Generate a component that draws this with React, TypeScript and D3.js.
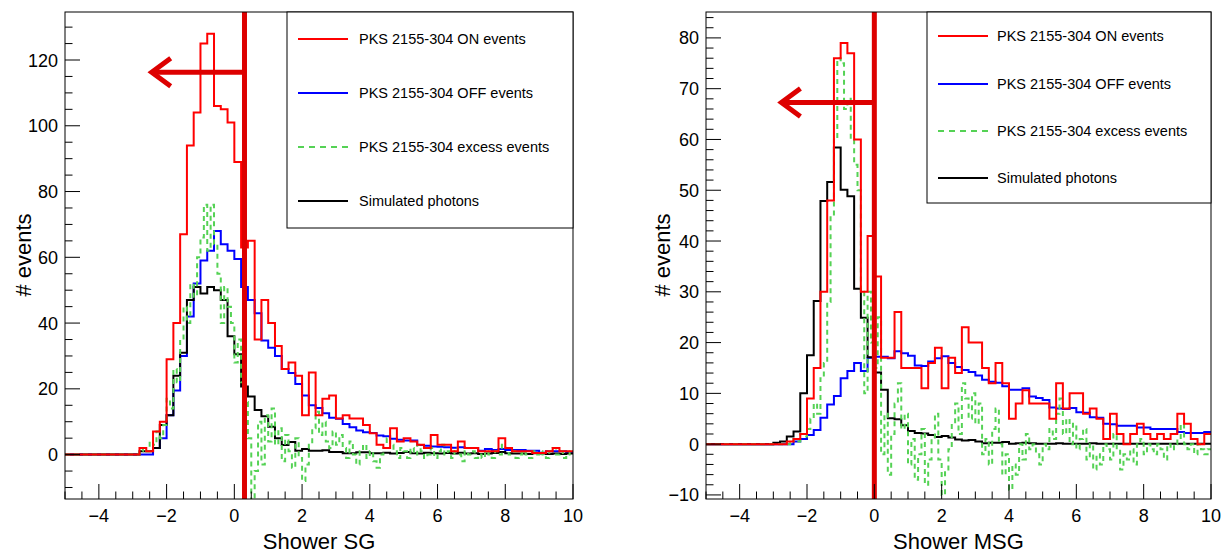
import React from "react";
import * as d3 from "d3";

// ---------- DATA ----------
const X_MIN = -5;
const X_MAX = 10;
const BIN = 0.2; // ON / OFF / simulated binning
const FINE_BIN = 0.1; // excess binning

const xTickValues = [-4, -2, 0, 2, 4, 6, 8, 10];
const sgYTickValues = [0, 20, 40, 60, 80, 100, 120];
const msgYTickValues = [-10, 0, 10, 20, 30, 40, 50, 60, 70, 80];

const legendLabels = [
  "PKS 2155-304 ON events",
  "PKS 2155-304 OFF events",
  "PKS 2155-304 excess events",
  "Simulated photons",
];

// Shower SG panel
const sgOn = [
  0, 0, 0, 0, 0, 0, 0, 0, 0, 0, 0,
  2, 1, 7, 10, 29, 40, 67, 94, 104, 125, 128, 106, 105, 101, 89, 63, 65, 35, 47, 40,
  33, 26, 28, 24, 12, 25, 12, 17, 18, 11, 12, 11, 11, 9, 6.5, 3, 2, 8, 4, 5,
  4, 3, 2, 6, 3, 3, 1, 4, 2, 2, 1, 1, 1, 5, 2, 1, 1, 1, 0.5, 0.5, 1, 2, 1, 1,
];
const sgOff = [
  0, 0, 0, 0, 0, 0, 0, 0, 0, 0, 0, 0, 0,
  2, 5, 12, 19.5, 30, 42, 52, 59, 62, 68, 64, 62, 59.5, 51, 47, 43, 34.7, 32.5, 30,
  26, 24.8, 21.5, 18, 15, 14.2, 12.6, 11.2, 10.9, 9.3, 8.3, 7.3, 6.8, 6.6, 5.8, 5.6,
  4.8, 4.5, 4.3, 4.3, 2.9, 2.7, 2.5, 2.4, 2.2, 2.1, 2.2, 2, 2, 1.2, 1.7, 1.4, 1.7,
  1.4, 1.4, 1.4, 1.2, 1.2, 0.6, 1, 1, 1, 0.8,
];
const sgSim = [
  0, 0, 0, 0, 0, 0, 0, 0, 0, 0, 0,
  1, 1, 2, 9, 12, 24, 31, 47, 51, 49, 51, 50, 47, 36, 30.5, 20.7, 17.7, 13.6, 11.7,
  8.5, 5, 2.9, 3.8, 1.2, 1.7, 1.2, 1.2, 1.3, 0.8, 0.8, 0.4, 0.4, 0.7, 0.7, 0.4, 0.4,
  0.6, 0.3, 0.5, 0.8, 0.4, 0.3, 0.6, 0.4, 0.3, 0.5, 0.3, 0.6, 0.3, 0.4, 0.2, 0.3,
  0.5, 0.8, 0.4, 0.3, 0.3, 0.2, 0.4, 0.3, 0.2, 0.3, 0.2, 0.3,
];
const sgExcess = [
  0, 0, 0, 0, 0, 0, 0, 0, 0, 0,
  0, 0, 0, 0, 0, 0, 0, 0, 0, 0,
  0, 0, 1, 2, 1, 4, 3, 7, 5, 9,
  17, 14, 26, 22, 35, 45, 40, 52, 48, 60,
  66, 76, 62, 76, 64, 55, 40, 51, 45, 40,
  28, 35, 22, 16, 5, -14, -5, 10, -3, 12,
  4, 14, 3, 8, -2, 6, 1, -4, 5, -1,
  -8, -3, 3, 8, 13, 6, 10, 4, 2, 7,
  3, 6, 2, -1, 4, 0, -3, 1, 3, -1,
  1, -2, -4, 0, 2, 5, 3, 1, -1, 2,
  1, -1, 2, 0, 3, 1, -1, 0, 2, -1,
  1, 3, 0, 1, -1, 2, 0, -2, 1, 0,
  1, -1, 0, -1, 1, 0, -1, 1, 0, 3,
  2, 0, 1, -1, 0, 1, 0, -1, 1, 0,
  1, 0, -1, 1, 2, 0, 1, -1, 0, 1,
];

// Shower MSG panel
const msgOn = [
  0, 0, 0, 0, 0, 0, 0, 0, 0, 0, 0, 0,
  0.5, 1, 2, 9, 15, 30, 48, 76, 79, 77, 60, 30, 41, 33, 17, 17, 26, 15, 15, 15, 11,
  16, 19, 11, 17, 14, 23, 20, 20, 15, 12, 16, 12, 5, 8, 10.6, 8, 8, 8, 5, 12, 7,
  10, 10, 6, 7, 5, 1, 6, 2, 0, 2, 4, 2, 1, 2, 1, 2, 6, 4, 1, 0, 2,
];
const msgOff = [
  0, 0, 0, 0, 0, 0, 0, 0, 0, 0, 0, 0, 0,
  0.5, 1, 1.8, 2.8, 5.2, 7.8, 9.5, 13, 14.4, 16, 14.4, 17, 17.2, 17.2, 16.9, 18.3,
  17.9, 17.4, 15.5, 15.4, 16.3, 16.9, 17.3, 16, 15.2, 14.6, 14.2, 13.5, 12.7, 12.3,
  12.1, 11.4, 10.7, 10.7, 11, 9.4, 9.1, 8.7, 7.2, 7, 6.9, 7.1, 6.3, 6.2, 5.3, 5.2,
  4, 3.9, 3.6, 3.6, 3.6, 3.3, 3.3, 3, 3, 3, 3, 2.4, 2.2, 2.2, 2.2, 2.4,
];
const msgSim = [
  0, 0, 0, 0, 0, 0, 0, 0, 0, 0,
  0.3, 0.5, 1.5, 2.5, 10, 17.5, 28.2, 47.9, 51.6, 58.4, 50.1, 48.8, 30.6, 24.9, 17.1,
  14.1, 10.7, 5.1, 4.9, 3.7, 2.6, 2.2, 2.1, 1.8, 1.4, 1.6, 1.3, 0.9, 0.7, 0.8, 0.5,
  0.2, 0.3, 0.3, 0.4, 0.1, 0.2, 0.3, 0.2, 0.1, 0.1,
  0.1, 0.2, 0.1, 0.1, 0.1, 0.1, 0.2, 0.1, 0.1, 0.1, 0.1, 0.1, 0.1, 0.1, 0.1, 0.1,
  0.1, 0.1, 0.1, 0.1, 0.1, 0.1, 0.1, 0.1,
];
const msgExcess = [
  0, 0, 0, 0, 0, 0, 0, 0, 0, 0,
  0, 0, 0, 0, 0, 0, 0, 0, 0, 0,
  0, 0, 0, 0, 0, 0.5, 1, 0.5, 2, 1.5,
  3, 5, 8, 6, 13, 16, 28, 45, 60, 76,
  75, 66, 68, 60, 55, 50, 30, 10, 30, 20,
  15, 25, -2, 6, -6, 2, 8, 12, 3, 6,
  -4, 1, -7, -2, 3, -8, -3, 1, 6, -3,
  -10, -5, -1, 4, 8, 2, 12, 9, 5, 10,
  4, 8, -2, 1, -4, 3, 7, 0, -6, -2,
  -9, -4, -6, 0, -3, 2, -1, 0, -2, -4,
  0, -1, 3, 1, 6, 9, 2, 5, 0, 4,
  -1, 1, 3, -3, 0, -5, -2, -4, 0, -1,
  -3, 2, -1, -5, -2, -3, -1, -4, 0, 1,
  -2, 0, -1, -2, 0, -1, -3, 0, -1, 0,
  1, 4, 0, -1, 0, -2, 0, -1, -2, -1,
];

// cut & arrow annotations (data units)
const sgCut = 0.3;
const sgArrowY = 116.3;
const sgArrowTip = -2.44;
const msgCut = 0.0;
const msgArrowY = 67.3;
const msgArrowTip = -2.76;

// ---------- STYLE ----------
const FONT = "'Liberation Sans', Arial, Helvetica, sans-serif";
const RED = "#ff0000";
const BLUE = "#0000ff";
const GREEN = "#55d255";
const BLACK = "#000000";
const CUT = "#dd0000";

type PanelProps = {
  id: string;
  left: number;
  right: number;
  top: number;
  bottom: number;
  yDomain: [number, number];
  yTicks: number[];
  yMinor: number;
  on: number[];
  off: number[];
  sim: number[];
  excess: number[];
  cut: number;
  arrowY: number;
  arrowTip: number;
  legend: { x0: number; x1: number; y0: number; y1: number; rows: number[]; lineX0: number; lineX1: number; textX: number };
  xTitle: string;
  yTitleX: number;
};

function histPath(values: number[], width: number, xs: any, ys: any) {
  const pts: [number, number][] = values.map((v, i) => [X_MIN + i * width, v]);
  pts.push([X_MIN + values.length * width, values[values.length - 1]]);
  return d3
    .line<[number, number]>()
    .x((d) => xs(d[0]))
    .y((d) => ys(d[1]))
    .curve(d3.curveStepAfter)(pts) as string;
}

function fmt(v: number) {
  return v < 0 ? "\u2212" + Math.abs(v) : String(v);
}

function Panel(p: PanelProps) {
  const xs = d3.scaleLinear().domain([X_MIN, X_MAX]).range([p.left, p.right]);
  const ys = d3.scaleLinear().domain(p.yDomain).range([p.bottom, p.top]);
  const majorLen = 15;
  const minorLen = 7.5;

  const xMinor = d3.range(X_MIN, X_MAX + 1e-9, 0.5).filter((v) => Math.abs(v / 2 - Math.round(v / 2)) > 1e-6);
  const yStart = Math.ceil(p.yDomain[0] / p.yMinor) * p.yMinor;
  const yMinor = d3
    .range(yStart, p.yDomain[1], p.yMinor)
    .filter((v) => !p.yTicks.some((t) => Math.abs(t - v) < 1e-6));

  const ax = xs(p.cut);
  const ay = ys(p.arrowY);
  const tipX = xs(p.arrowTip);

  const legendColors = [RED, BLUE, GREEN, BLACK];

  return (
    <g>
      <defs>
        <clipPath id={`clip-${p.id}`}>
          <rect x={p.left} y={p.top} width={p.right - p.left} height={p.bottom - p.top} />
        </clipPath>
      </defs>
      <rect x={p.left} y={p.top} width={p.right - p.left} height={p.bottom - p.top} fill="white" />
      <g clipPath={`url(#clip-${p.id})`} fill="none" strokeWidth={2}>
        <path d={histPath(p.off, BIN, xs, ys)} stroke={BLUE} />
        <path d={histPath(p.sim, BIN, xs, ys)} stroke={BLACK} />
        <path d={histPath(p.excess, FINE_BIN, xs, ys)} stroke={GREEN} strokeDasharray="5,4" />
        <path d={histPath(p.on, BIN, xs, ys)} stroke={RED} />
      </g>
      {/* cut and arrow */}
      <g stroke={CUT} strokeWidth={5} fill="none" strokeLinecap="butt">
        <line x1={ax} x2={ax} y1={p.top} y2={p.bottom} />
        <line x1={ax} x2={tipX + 2} y1={ay} y2={ay} />
        <polyline points={`${tipX + 19},${ay - 14} ${tipX},${ay} ${tipX + 19},${ay + 14}`} strokeLinejoin="miter" />
      </g>
      {/* frame */}
      <rect x={p.left} y={p.top} width={p.right - p.left} height={p.bottom - p.top} fill="none" stroke="#000" strokeWidth={1} />
      {/* ticks */}
      <g stroke="#000" strokeWidth={1}>
        {xTickValues.map((t) => (
          <line key={`xm${t}`} x1={xs(t)} x2={xs(t)} y1={p.bottom} y2={p.bottom - majorLen} />
        ))}
        {xMinor.map((t) => (
          <line key={`xn${t}`} x1={xs(t)} x2={xs(t)} y1={p.bottom} y2={p.bottom - minorLen} />
        ))}
        {p.yTicks.map((t) => (
          <line key={`ym${t}`} x1={p.left} x2={p.left + majorLen} y1={ys(t)} y2={ys(t)} />
        ))}
        {yMinor.map((t) => (
          <line key={`yn${t}`} x1={p.left} x2={p.left + minorLen} y1={ys(t)} y2={ys(t)} />
        ))}
      </g>
      <g fontFamily={FONT} fontSize={18} fill="#000">
        {xTickValues.map((t) => (
          <text key={`xl${t}`} x={xs(t)} y={p.bottom + 23} textAnchor="middle">
            {fmt(t)}
          </text>
        ))}
        {p.yTicks.map((t) => (
          <text key={`yl${t}`} x={p.left - 7} y={ys(t) + 6.5} textAnchor="end">
            {fmt(t)}
          </text>
        ))}
      </g>
      <text
        x={(p.left + p.right) / 2}
        y={549}
        textAnchor="middle"
        fontFamily={FONT}
        fontSize={22}
      >
        {p.xTitle}
      </text>
      <text
        transform={`translate(${p.yTitleX},${255}) rotate(-90)`}
        textAnchor="middle"
        fontFamily={FONT}
        fontSize={22}
      >
        # events
      </text>
      {/* legend */}
      <rect
        x={p.legend.x0}
        y={p.legend.y0}
        width={p.legend.x1 - p.legend.x0}
        height={p.legend.y1 - p.legend.y0}
        fill="white"
        stroke="#000"
        strokeWidth={1}
      />
      {legendLabels.map((lab, i) => (
        <g key={lab}>
          <line
            x1={p.legend.lineX0}
            x2={p.legend.lineX1}
            y1={p.legend.rows[i]}
            y2={p.legend.rows[i]}
            stroke={legendColors[i]}
            strokeWidth={2}
            strokeDasharray={i === 2 ? "6,5" : undefined}
          />
          <text
            x={p.legend.textX}
            y={p.legend.rows[i] + 5}
            fontFamily={FONT}
            fontSize={14.5}
            fill="#000"
          >
            {lab}
          </text>
        </g>
      ))}
    </g>
  );
}

export default function App() {
  return (
    <svg
      width={1226}
      height={557}
      style={{ position: "absolute", left: 0, top: 0, background: "white" }}
    >
      <rect x={0} y={0} width={1226} height={557} fill="white" />
      <Panel
        id="sg"
        left={65}
        right={573}
        top={12}
        bottom={499}
        yDomain={[-13.5, 134.6]}
        yTicks={sgYTickValues}
        yMinor={5}
        on={sgOn}
        off={sgOff}
        sim={sgSim}
        excess={sgExcess}
        cut={sgCut}
        arrowY={sgArrowY}
        arrowTip={sgArrowTip}
        legend={{ x0: 287, x1: 573, y0: 12, y1: 228, rows: [39, 93, 147, 201], lineX0: 298, lineX1: 348, textX: 359 }}
        xTitle="Shower SG"
        yTitleX={31}
      />
      <Panel
        id="msg"
        left={706}
        right={1211}
        top={12}
        bottom={499}
        yDomain={[-10.8, 85.1]}
        yTicks={msgYTickValues}
        yMinor={2}
        on={msgOn}
        off={msgOff}
        sim={msgSim}
        excess={msgExcess}
        cut={msgCut}
        arrowY={msgArrowY}
        arrowTip={msgArrowTip}
        legend={{ x0: 927, x1: 1211, y0: 12, y1: 203, rows: [36, 84, 131, 178], lineX0: 938, lineX1: 988, textX: 997 }}
        xTitle="Shower MSG"
        yTitleX={670}
      />
    </svg>
  );
}
